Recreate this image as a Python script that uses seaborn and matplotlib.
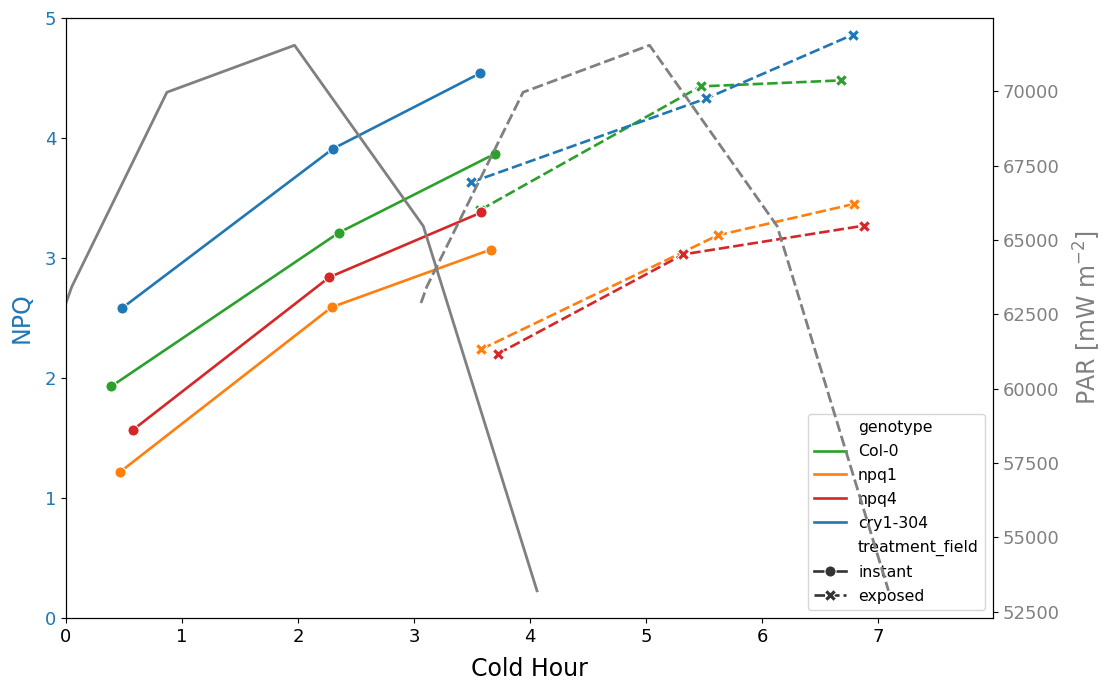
import matplotlib
matplotlib.use("Agg")
import matplotlib.pyplot as plt
import pandas as pd
import seaborn as sns

genotypes = ["Col-0", "npq1", "npq4", "cry1-304"]
treatments = ["instant", "exposed"]
genotype_colors = ["#2ca02c", "#ff7f0e", "#d62728", "#1f77b4"]

# NPQ measured right after the cold transfer
col0_instant_hour = [0.39, 2.35, 3.70]
col0_instant_npq = [1.93, 3.21, 3.87]
npq1_instant_hour = [0.47, 2.29, 3.66]
npq1_instant_npq = [1.22, 2.59, 3.07]
npq4_instant_hour = [0.58, 2.27, 3.58]
npq4_instant_npq = [1.57, 2.84, 3.38]
cry1_instant_hour = [0.48, 2.30, 3.57]
cry1_instant_npq = [2.58, 3.91, 4.54]

# NPQ of plants exposed in the field
col0_exposed_hour = [3.57, 5.47, 6.68]
col0_exposed_npq = [3.40, 4.43, 4.48]
npq1_exposed_hour = [3.58, 5.62, 6.79]
npq1_exposed_npq = [2.24, 3.19, 3.45]
npq4_exposed_hour = [3.72, 5.32, 6.88]
npq4_exposed_npq = [2.20, 3.03, 3.27]
cry1_exposed_hour = [3.49, 5.52, 6.78]
cry1_exposed_npq = [3.63, 4.33, 4.86]

# Light intensity (PAR) logged alongside each treatment
par_instant_hour = [0.00, 0.05, 0.87, 1.97, 3.08, 4.06]
par_exposed_hour = [3.06, 3.11, 3.94, 5.03, 6.13, 7.09]
par_values = [62877, 63425, 69966, 71546, 65464, 53200]

series = [
    ("Col-0", "instant", col0_instant_hour, col0_instant_npq),
    ("npq1", "instant", npq1_instant_hour, npq1_instant_npq),
    ("npq4", "instant", npq4_instant_hour, npq4_instant_npq),
    ("cry1-304", "instant", cry1_instant_hour, cry1_instant_npq),
    ("Col-0", "exposed", col0_exposed_hour, col0_exposed_npq),
    ("npq1", "exposed", npq1_exposed_hour, npq1_exposed_npq),
    ("npq4", "exposed", npq4_exposed_hour, npq4_exposed_npq),
    ("cry1-304", "exposed", cry1_exposed_hour, cry1_exposed_npq),
]
rows = []
for geno, treat, hours, npq in series:
    for h, v in zip(hours, npq):
        rows.append({"Cold Hour": h, "NPQ": v, "genotype": geno, "treatment_field": treat})
npq_df = pd.DataFrame(rows)

par_rows = []
for treat, hours in (("instant", par_instant_hour), ("exposed", par_exposed_hour)):
    for h, p in zip(hours, par_values):
        par_rows.append({"Cold Hour": h, "PAR": p, "treatment_field": treat})
par_df = pd.DataFrame(par_rows)

palette = dict(zip(genotypes, genotype_colors))
markers = {"instant": "o", "exposed": "X"}
dashes = {"instant": "", "exposed": (4, 1.5)}

fig, ax = plt.subplots(figsize=(11.05, 6.82), dpi=100)
fig.subplots_adjust(left=0.0597, right=0.8986, bottom=0.0938, top=0.9736)

sns.lineplot(data=npq_df, x="Cold Hour", y="NPQ", hue="genotype",
             style="treatment_field", hue_order=genotypes, style_order=treatments,
             palette=palette, markers=markers, dashes=dashes,
             linewidth=1.9, markersize=8, ax=ax)

ax2 = ax.twinx()
sns.lineplot(data=par_df, x="Cold Hour", y="PAR", style="treatment_field",
             style_order=treatments, dashes=dashes, color="gray",
             linewidth=2.0, legend=False, ax=ax2)

ax.set_xlim(0, 7.99)
ax.set_xticks(range(8))
ax.set_ylim(0, 5)
ax.set_xlabel("Cold Hour", fontsize=17, labelpad=8)
ax.set_ylabel("NPQ", color="#1f77b4", fontsize=17, labelpad=8)
ax.tick_params(axis="both", labelsize=13)
ax.tick_params(axis="y", labelcolor="#1f77b4")

ax2.set_ylabel("PAR [mW m$^{-2}$]", color="gray", fontsize=17, labelpad=9)
ax2.tick_params(axis="y", labelsize=13, labelcolor="gray")

sns.move_legend(ax, "lower right", fontsize=11.3, labelspacing=0.57)

fig.savefig("out.png", dpi=100)
